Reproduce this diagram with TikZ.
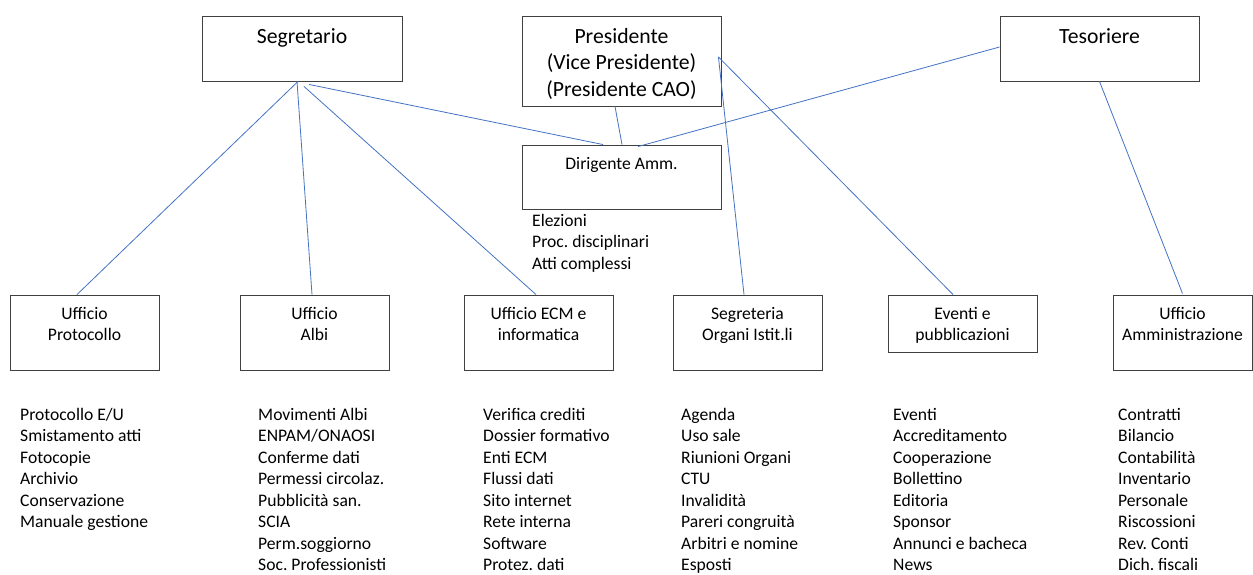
\documentclass[tikz,border=0pt]{standalone}
\usepackage{fontspec}
\setmainfont{Carlito}
\usetikzlibrary{calc}
\definecolor{linkblue}{RGB}{68,114,196}
\definecolor{boxline}{RGB}{64,64,64}
\frenchspacing
\begin{document}
\begin{tikzpicture}[x=1pt,y=-1pt,
  box/.style={draw=boxline, line width=0.9pt, inner sep=0pt},
  conn/.style={draw=linkblue, line width=0.8pt},
  bigtxt/.style={inner sep=0pt, anchor=base, font=\fontsize{21.7}{26.5}\selectfont},
  smalltxt/.style={inner sep=0pt, anchor=base, font=\fontsize{17.6}{21.5}\selectfont},
  listtxt/.style={inner sep=0pt, anchor=base west, font=\fontsize{17.6}{21.5}\selectfont}]
\useasboundingbox[fill=white] (0,0) rectangle (1253,575);

% top boxes
\node[box, minimum width=200pt, minimum height=65pt] (seg) at (302,48.5) {};
\node[box, minimum width=199pt, minimum height=90pt] (pres) at (621.5,61) {};
\node[box, minimum width=199pt, minimum height=65pt] (tes) at (1099.5,48.5) {};
\node[box, minimum width=199pt, minimum height=64pt] (dir) at (621.5,177) {};

\node[bigtxt] (tseg) at (302,43.3) {Segretario};
\node[bigtxt] (tpres) at (621.5,43.3) {\parbox[t]{199pt}{\centering Presidente\\(Vice Presidente)\\(Presidente CAO)}};
\node[bigtxt] (ttes) at (1099.5,43.3) {Tesoriere};
\node[smalltxt] (tdir) at (621.5,169.3) {Dirigente Amm.};
\node[listtxt] (ldir) at (532,226) {\parbox[t]{180pt}{\raggedright Elezioni\\Proc. disciplinari\\Atti complessi}};

% bottom boxes
\node[box, minimum width=149pt, minimum height=75pt] (prot) at (84.5,332.5) {};
\node[box, minimum width=149pt, minimum height=75pt] (albi) at (314.5,332.5) {};
\node[box, minimum width=149pt, minimum height=75pt] (ecm) at (538.5,332.5) {};
\node[box, minimum width=149pt, minimum height=75pt] (segr) at (747.5,332.5) {};
\node[box, minimum width=149pt, minimum height=57pt] (ev) at (962.5,323.5) {};
\node[box, minimum width=139pt, minimum height=75pt] (amm) at (1182.5,332.5) {};

\node[smalltxt] (tprot) at (84.5,319.3) {\parbox[t]{149pt}{\centering Ufficio\\Protocollo}};
\node[smalltxt] (talbi) at (314.5,319.3) {\parbox[t]{149pt}{\centering Ufficio\\Albi}};
\node[smalltxt] (tecm) at (538.5,319.3) {\parbox[t]{149pt}{\centering Ufficio ECM e\\informatica}};
\node[smalltxt] (tsegr) at (747.5,319.3) {\parbox[t]{149pt}{\centering Segreteria\\Organi Istit.li}};
\node[smalltxt] (tev) at (962.5,319.3) {\parbox[t]{149pt}{\centering Eventi e\\pubblicazioni}};
\node[smalltxt] (tamm) at (1182.5,319.3) {\parbox[t]{149pt}{\centering Ufficio\\Amministrazione}};

% lists
\node[listtxt] (lprot) at (20,420) {\parbox[t]{200pt}{\raggedright Protocollo E/U\\Smistamento atti\\Fotocopie\\Archivio\\Conservazione\\Manuale gestione}};
\node[listtxt] (lalbi) at (258,420) {\parbox[t]{200pt}{\raggedright Movimenti Albi\\ENPAM/ONAOSI\\Conferme dati\\Permessi circolaz.\\Pubblicità san.\\SCIA\\Perm.soggiorno\\Soc. Professionisti}};
\node[listtxt] (lecm) at (483,420) {\parbox[t]{200pt}{\raggedright Verifica crediti\\Dossier formativo\\Enti ECM\\Flussi dati\\Sito internet\\Rete interna\\Software\\Protez. dati}};
\node[listtxt] (lsegr) at (681,420) {\parbox[t]{200pt}{\raggedright Agenda\\Uso sale\\Riunioni Organi\\CTU\\Invalidità\\Pareri congruità\\Arbitri e nomine\\Esposti}};
\node[listtxt] (lev) at (893,420) {\parbox[t]{200pt}{\raggedright Eventi\\Accreditamento\\Cooperazione\\Bollettino\\Editoria\\Sponsor\\Annunci e bacheca\\News}};
\node[listtxt] (lamm) at (1118,420) {\parbox[t]{130pt}{\raggedright Contratti\\Bilancio\\Contabilità\\Inventario\\Personale\\Riscossioni\\Rev. Conti\\Dich. fiscali}};

% connectors
\draw[conn] ($(seg.south)+(-4,0)$) -- ($(prot.north)+(-7.5,0)$);
\draw[conn] ($(seg.south)+(-5,0)$) -- ($(albi.north)+(-2.5,0)$);
\draw[conn] ($(seg.south)+(2,5)$) -- ($(ecm.north)+(-2.5,0)$);
\draw[conn] ($(seg.south)+(7,3)$) -- ($(dir.north)+(-18.5,0)$);
\draw[conn] ($(pres.south)+(-6.5,0)$) -- ($(dir.north)+(0.5,0)$);
\draw[conn] ($(tes.west)+(0,-1.5)$) -- ($(dir.north)+(16.5,2)$);
\draw[conn] ($(pres.east)+(-3,-4)$) -- ($(ev.north)+(-9.5,0)$);
\draw[conn] ($(pres.east)+(-3,-4)$) -- ($(segr.north)+(-3.5,0)$);
\draw[conn] (tes.south) -- ($(amm.north)+(0,-1)$);
\end{tikzpicture}
\end{document}
